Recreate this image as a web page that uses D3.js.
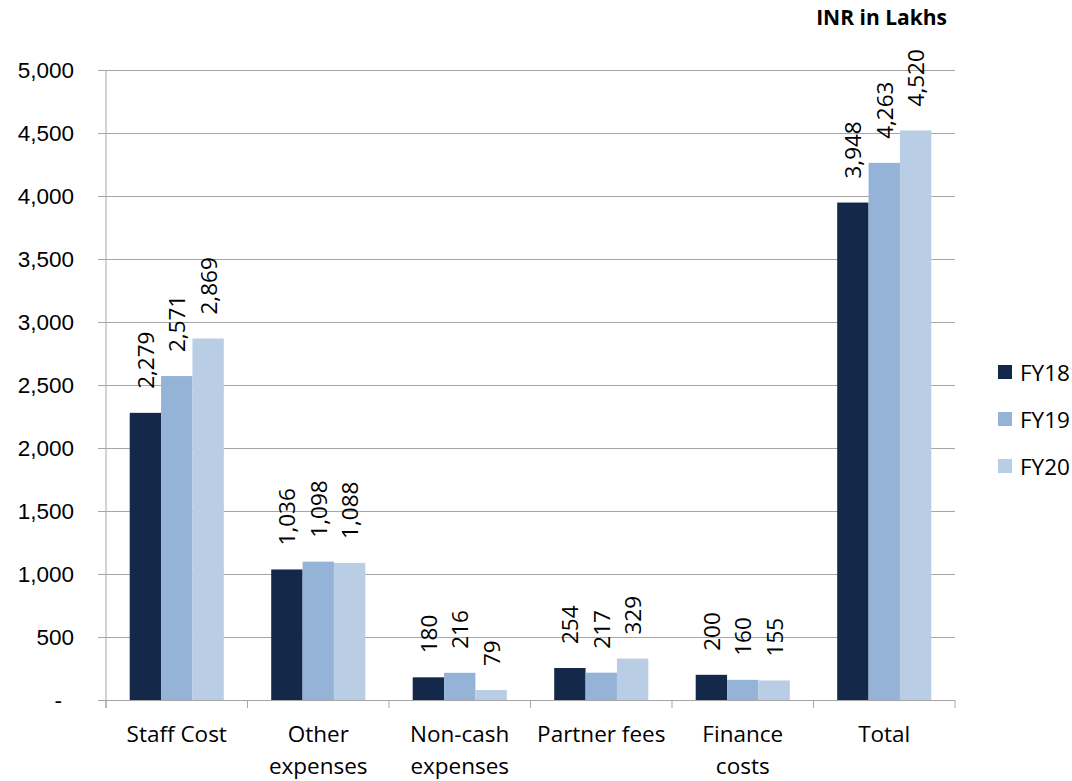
<!DOCTYPE html>
<html>
<head>
<meta charset="utf-8">
<script src="https://cdn.jsdelivr.net/npm/d3@7"></script>
<style>
  body { margin: 0; background: #fff; }
  svg { font-family: "Open Sans", Lato, sans-serif; }
</style>
</head>
<body>
<div id="chart"></div>
<script>
const categories = [["Staff Cost"], ["Other", "expenses"], ["Non-cash", "expenses"], ["Partner fees"], ["Finance", "costs"], ["Total"]];
const seriesNames = ["FY18", "FY19", "FY20"];
const fy18 = [2279, 1036, 180, 254, 200, 3948];
const fy19 = [2571, 1098, 216, 217, 160, 4263];
const fy20 = [2869, 1088, 79, 329, 155, 4520];
const yTicks = [0, 500, 1000, 1500, 2000, 2500, 3000, 3500, 4000, 4500, 5000];
const colors = ["#14284A", "#95B3D7", "#B9CDE5"];

const width = 1072, height = 781;
const plot = { left: 106, right: 955, top: 70, bottom: 700 };
const series = [fy18, fy19, fy20];
const catKeys = categories.map(c => c.join(" "));
const fs = 22.5;

const svg = d3.select("#chart").append("svg")
    .attr("width", width)
    .attr("height", height);

const x = d3.scaleBand()
    .domain(catKeys)
    .range([plot.left, plot.right])
    .paddingInner(0.335)
    .paddingOuter(0.1675);

const x1 = d3.scaleBand()
    .domain(seriesNames)
    .range([0, x.bandwidth()]);

const y = d3.scaleLinear()
    .domain([0, 5000])
    .range([plot.bottom, plot.top]);

// gridlines + y axis
const yAxis = svg.append("g")
    .attr("transform", `translate(${plot.left},0)`)
    .call(d3.axisLeft(y)
        .tickValues(yTicks)
        .tickSize(-(plot.right - plot.left))
        .tickPadding(32)
        .tickFormat(d => d === 0 ? "-" : d3.format(",")(d)));
yAxis.select(".domain").remove();
yAxis.selectAll(".tick line")
    .attr("x1", -8)
    .attr("stroke", "#A6A6A6");
yAxis.selectAll(".tick text")
    .attr("font-size", fs)
    .attr("fill", "#000")
    .attr("dx", d => d === 0 ? -12 : 0);

svg.append("line")
    .attr("x1", plot.left).attr("x2", plot.left)
    .attr("y1", plot.top).attr("y2", plot.bottom + 8)
    .attr("stroke", "#A6A6A6");

// category ticks along the bottom
svg.append("g").selectAll("line")
    .data(d3.range(catKeys.length + 1))
    .join("line")
    .attr("x1", i => plot.left + (plot.right - plot.left) * i / catKeys.length)
    .attr("x2", i => plot.left + (plot.right - plot.left) * i / catKeys.length)
    .attr("y1", plot.bottom)
    .attr("y2", plot.bottom + 8)
    .attr("stroke", "#A6A6A6");

// bars
const groups = svg.append("g").selectAll("g")
    .data(catKeys)
    .join("g")
    .attr("transform", d => `translate(${x(d)},0)`);

groups.selectAll("rect")
    .data((d, i) => seriesNames.map((s, j) => ({ s, v: series[j][i], c: colors[j] })))
    .join("rect")
    .attr("x", d => x1(d.s))
    .attr("y", d => y(d.v))
    .attr("width", x1.bandwidth())
    .attr("height", d => y(0) - y(d.v))
    .attr("fill", d => d.c);

groups.selectAll("text")
    .data((d, i) => seriesNames.map((s, j) => ({ s, v: series[j][i] })))
    .join("text")
    .attr("transform", d => `translate(${x1(d.s) + x1.bandwidth() / 2},${y(d.v) - 24}) rotate(-90)`)
    .attr("dominant-baseline", "central")
    .attr("font-size", fs)
    .text(d => d3.format(",")(d.v));

// category labels
svg.append("g").selectAll("text")
    .data(categories)
    .join("text")
    .attr("x", (d, i) => x(catKeys[i]) + x.bandwidth() / 2)
    .attr("y", 742)
    .attr("text-anchor", "middle")
    .attr("font-size", fs)
    .selectAll("tspan")
    .data(d => d)
    .join("tspan")
    .attr("x", function () { return d3.select(this.parentNode).attr("x"); })
    .attr("dy", (d, i) => i === 0 ? 0 : 32)
    .text(d => d);

// legend
const legend = svg.append("g").selectAll("g")
    .data(seriesNames)
    .join("g")
    .attr("transform", (d, i) => `translate(998,${372 + i * 47})`);
legend.append("rect")
    .attr("y", -7)
    .attr("width", 14)
    .attr("height", 14)
    .attr("fill", (d, i) => colors[i]);
legend.append("text")
    .attr("x", 22)
    .attr("dominant-baseline", "central")
    .attr("font-size", fs)
    .text(d => d);

// unit label
svg.append("text")
    .attr("x", 947)
    .attr("y", 25)
    .attr("text-anchor", "end")
    .attr("font-size", 21)
    .attr("font-weight", "bold")
    .text("INR in Lakhs");
</script>
</body>
</html>
